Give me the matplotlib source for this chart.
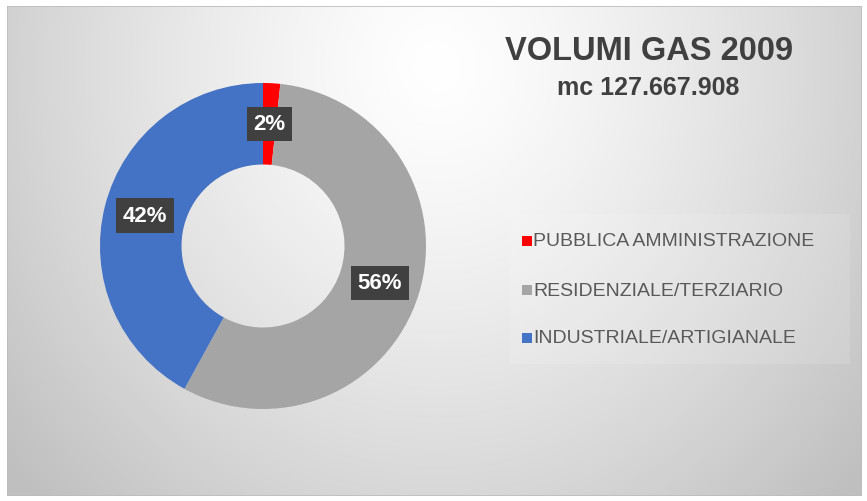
import numpy as np
import matplotlib
matplotlib.use("Agg")
import matplotlib.pyplot as plt
from matplotlib.patches import Rectangle

categories = ["PUBBLICA AMMINISTRAZIONE", "RESIDENZIALE/TERZIARIO", "INDUSTRIALE/ARTIGIANALE"]
shares = [1.7, 56.3, 42.0]
labels = ["2%", "56%", "42%"]
colors = ["#ff0000", "#a5a5a5", "#4472c4"]
title = "VOLUMI GAS 2009"
subtitle = "mc 127.667.908"

W, H = 867, 502
fig = plt.figure(figsize=(W / 100, H / 100), dpi=100)
fig.patch.set_facecolor("white")
plt.rcParams['font.family'] = ['Liberation Sans', 'DejaVu Sans']

# background radial gradient
bg = fig.add_axes([7 / W, 5 / H, 855 / W, 490 / H])
bg.set_axis_off()
yy, xx = np.mgrid[0:490, 0:855]
cx, cy = 430, 60
d = np.sqrt(((xx - cx) / 560.0) ** 2 + ((yy - cy) / 620.0) ** 2)
d = np.clip(d, 0, 1)
v = 1.0 - 0.25 * d ** 1.3
img = np.dstack([v, v, v])
bg.imshow(img, aspect="auto", extent=[0, 1, 0, 1], origin="upper")
bg.set_xlim(0, 1)
bg.set_ylim(0, 1)
bg.add_patch(Rectangle((0, 0), 1, 1, transform=bg.transAxes, fill=False,
                       edgecolor="#bdbdbd", lw=1.2))
# faint legend box
bg.add_patch(Rectangle(((510 - 7) / 855, 1 - (365 - 7) / 490), 340 / 855, 150 / 490,
                       facecolor="white", alpha=0.12, edgecolor="none"))

# donut
cxp, cyp, R = 263, 247, 163
ax = fig.add_axes([(cxp - R) / W, 1 - (cyp + R) / H, 2 * R / W, 2 * R / H])
ax.set_axis_off()
wedges, _ = ax.pie(shares, colors=colors, startangle=90, counterclock=False,
                   radius=1.0, wedgeprops=dict(width=0.5, edgecolor="none"))
ax.set_xlim(-1, 1)
ax.set_ylim(-1, 1)
ax.set_aspect("equal")

for w, lab in zip(wedges, labels):
    ang = np.deg2rad((w.theta1 + w.theta2) / 2)
    r = 0.75
    ax.text(r * np.cos(ang), r * np.sin(ang), lab, ha="center", va="center",
            color="white", fontsize=16, fontweight="bold",
            bbox=dict(boxstyle="square,pad=0.3", facecolor="#404040", edgecolor="none"))

# titles
fig.text(649 / W, 1 - 51 / H, title, ha="center", va="center", fontsize=23.5,
         fontweight="bold", color="#404040")
fig.text(648 / W, 1 - 88 / H, subtitle, ha="center", va="center", fontsize=18,
         fontweight="bold", color="#404040")

# legend
ys = [242, 291, 339]
for cat, col, y in zip(categories, colors, ys):
    fig.patches.append(Rectangle((522 / W, 1 - (y + 5) / H), 10 / W, 10 / H,
                                 transform=fig.transFigure, facecolor=col,
                                 edgecolor="none"))
    fig.text(533 / W, 1 - y / H, cat, ha="left", va="center", fontsize=14,
             color="#595959")

fig.savefig("out.png", dpi=100)
